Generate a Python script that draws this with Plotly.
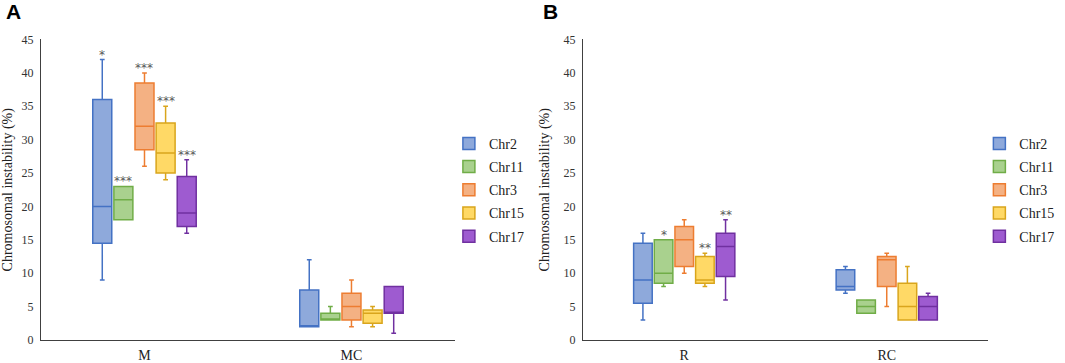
import plotly.graph_objects as go

chroms = ["Chr2", "Chr11", "Chr3", "Chr15", "Chr17"]
fills = ["#8EA9DB", "#A9D18E", "#F4B183", "#FFD966", "#9E5BD0"]
lines = ["#4472C4", "#70AD47", "#ED7D31", "#D9A51C", "#7030A0"]

# Panel A: categories M, MC
cats_a = ["M", "MC"]
a_low = {"Chr2": [9, 2], "Chr11": [18, 3], "Chr3": [26, 2], "Chr15": [24, 2], "Chr17": [16, 1]}
a_q1 = {"Chr2": [14.5, 2], "Chr11": [18, 3], "Chr3": [28.5, 3], "Chr15": [25, 2.5], "Chr17": [17, 4]}
a_med = {"Chr2": [20, 2], "Chr11": [21, 3], "Chr3": [32, 5], "Chr15": [28, 4], "Chr17": [19, 4]}
a_q3 = {"Chr2": [36, 7.5], "Chr11": [23, 4], "Chr3": [38.5, 7], "Chr15": [32.5, 4.5], "Chr17": [24.5, 8]}
a_up = {"Chr2": [42, 12], "Chr11": [23, 5], "Chr3": [40, 9], "Chr15": [35, 5], "Chr17": [27, 8]}
a_sig = {"Chr2": ["*", ""], "Chr11": ["***", ""], "Chr3": ["***", ""], "Chr15": ["***", ""], "Chr17": ["***", ""]}

# Panel B: categories R, RC
cats_b = ["R", "RC"]
b_low = {"Chr2": [3, 7], "Chr11": [8, 4], "Chr3": [10, 5], "Chr15": [8, 3], "Chr17": [6, 3]}
b_q1 = {"Chr2": [5.5, 7.5], "Chr11": [8.5, 4], "Chr3": [11, 8], "Chr15": [8.5, 3], "Chr17": [9.5, 3]}
b_med = {"Chr2": [9, 8], "Chr11": [10, 5], "Chr3": [15, 12], "Chr15": [9, 5], "Chr17": [14, 5]}
b_q3 = {"Chr2": [14.5, 10.5], "Chr11": [15, 6], "Chr3": [17, 12.5], "Chr15": [12.5, 8.5], "Chr17": [16, 6.5]}
b_up = {"Chr2": [16, 11], "Chr11": [15, 6], "Chr3": [18, 13], "Chr15": [13, 11], "Chr17": [18, 7]}
b_sig = {"Chr2": ["", ""], "Chr11": ["*", ""], "Chr3": ["", ""], "Chr15": ["**", ""], "Chr17": ["**", ""]}

yticks = [0, 5, 10, 15, 20, 25, 30, 35, 40, 45]

GROUP_WIDTH = 0.51   # fraction of category spacing used by the 5 boxes
BOX_FRAC = 0.9       # fraction of each slot filled by a box
SERIF = "Liberation Serif, Times New Roman, serif"

fig = go.Figure()
annotations = []
panels = [
    (cats_a, a_low, a_q1, a_med, a_q3, a_up, a_sig, "x", "y", "legend"),
    (cats_b, b_low, b_q1, b_med, b_q3, b_up, b_sig, "x2", "y2", "legend2"),
]
n = len(chroms)
slot = GROUP_WIDTH / n
for cats, low, q1, med, q3, up, sig, xa, ya, lg in panels:
    for i, c in enumerate(chroms):
        off = (i - (n - 1) / 2) * slot
        xs = [k + off for k in range(len(cats))]
        fig.add_trace(go.Box(
            name=c, x=xs, q1=q1[c], median=med[c], q3=q3[c],
            lowerfence=low[c], upperfence=up[c], width=slot * BOX_FRAC,
            fillcolor=fills[i], line=dict(color=lines[i], width=1.5),
            whiskerwidth=0.25, xaxis=xa, yaxis=ya, legend=lg,
            legendgroup=lg + c, boxpoints=False, hoverinfo="skip",
        ))
        for k, s in enumerate(sig[c]):
            if s:
                annotations.append(dict(
                    x=xs[k], y=up[c][k], xref=xa, yref=ya, text=s,
                    showarrow=False, yanchor="bottom", yshift=-4,
                    font=dict(family="DejaVu Sans, Arial", size=12, color="#595959"),
                ))

annotations += [
    dict(x=0.004, y=1.0, xref="paper", yref="paper", text="<b>A</b>", showarrow=False,
         xanchor="left", yanchor="top", yshift=2,
         font=dict(family="Liberation Sans, Arial", size=21, color="black")),
    dict(x=0.508, y=1.0, xref="paper", yref="paper", text="<b>B</b>", showarrow=False,
         xanchor="left", yanchor="top", yshift=2,
         font=dict(family="Liberation Sans, Arial", size=21, color="black")),
]

def xaxis(cats, dom, anchor):
    return dict(domain=dom, anchor=anchor, showline=True, linecolor="#404040", linewidth=1.2,
                ticks="", showgrid=False, zeroline=False, range=[-0.5, len(cats) - 0.5],
                tickvals=list(range(len(cats))), ticktext=cats, ticklabelstandoff=2,
                tickfont=dict(family=SERIF, size=14, color="#222"))

def yaxis(anchor):
    return dict(domain=[0.0634, 0.8912], anchor=anchor, showline=True, linecolor="#404040",
                linewidth=1.2, ticks="", showgrid=False, range=[0, 45], tickvals=yticks,
                zeroline=False, tickfont=dict(family=SERIF, size=12, color="#333"),
                ticklabelstandoff=4,
                title=dict(text="Chromosomal instability (%)",
                           font=dict(family=SERIF, size=14, color="#222"), standoff=10))

leg = dict(yanchor="top", xanchor="left", font=dict(family=SERIF, size=14, color="#222"),
           tracegroupgap=2, itemwidth=30, bgcolor="rgba(0,0,0,0)", y=0.648)

fig.update_layout(
    width=1065, height=363, margin=dict(l=0, r=0, t=0, b=0, autoexpand=False),
    paper_bgcolor="white", plot_bgcolor="white", boxmode="overlay",
    xaxis=xaxis(cats_a, [0.0385, 0.4272], "y"),
    yaxis=yaxis("x"),
    xaxis2=xaxis(cats_b, [0.5474, 0.9277], "y2"),
    yaxis2=yaxis("x2"),
    legend=dict(x=0.4215, **leg),
    legend2=dict(x=0.9196, **leg),
    annotations=annotations,
    showlegend=True,
)

fig.write_html("out.html", config={"displayModeBar": False},
               post_script="document.body.style.margin='0';")
